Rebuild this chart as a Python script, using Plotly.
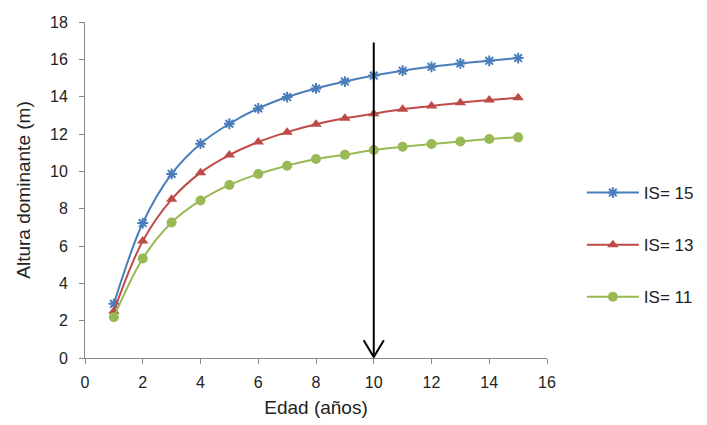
import plotly.graph_objects as go

edad = list(range(1, 16))
is15 = [2.9, 7.23, 9.86, 11.48, 12.55, 13.37, 13.98, 14.44, 14.81, 15.13, 15.39, 15.6, 15.78, 15.92, 16.07]
is13 = [2.5, 6.27, 8.5, 9.93, 10.87, 11.57, 12.1, 12.52, 12.84, 13.09, 13.32, 13.5, 13.68, 13.82, 13.94]
is11 = [2.18, 5.33, 7.26, 8.44, 9.27, 9.86, 10.3, 10.66, 10.89, 11.14, 11.32, 11.46, 11.6, 11.73, 11.82]
series_names = ["IS= 15", "IS= 13", "IS= 11"]
arrow_x = 10
arrow_top = 16.9

fig = go.Figure()
styles = [
    ("#4A7EBB", dict(symbol="asterisk-open", size=9, line=dict(width=2, color="#4A7EBB"))),
    ("#BE4B48", dict(symbol="triangle-up", size=10, color="#BE4B48")),
    ("#98B954", dict(symbol="circle", size=10, color="#98B954")),
]
for name, ys, (col, mk) in zip(series_names, [is15, is13, is11], styles):
    fig.add_trace(go.Scatter(x=edad, y=ys, name=name, mode="lines+markers",
                             line=dict(color=col, width=2, shape="spline"),
                             marker=mk, legendgroup=name))

# Arrow
fig.add_shape(type="line", xref="x", yref="y", x0=arrow_x, x1=arrow_x, y0=arrow_top, y1=0.05,
              line=dict(color="black", width=2))
fig.add_shape(type="path", xref="x", yref="y",
              path=f"M {arrow_x-0.35},{0.95} L {arrow_x},{0.05} L {arrow_x+0.35},{0.95}",
              line=dict(color="black", width=2))

fig.update_layout(
    width=707, height=425,
    margin=dict(l=85, r=160, t=22, b=67, autoexpand=False),
    paper_bgcolor="white", plot_bgcolor="white",
    font=dict(family="Liberation Sans, Arial, sans-serif", size=16, color="#222"),
    xaxis=dict(range=[0, 16], dtick=2, showgrid=False, zeroline=False, automargin=False,
               showline=True, linecolor="#888", linewidth=1,
               ticks="outside", ticklen=5, tickcolor="#888", ticklabelstandoff=5,
               title=dict(text="Edad (años)", standoff=10)),
    yaxis=dict(range=[0, 18], dtick=2, showgrid=False, zeroline=False, automargin=False,
               showline=True, linecolor="#888", linewidth=1,
               ticks="outside", ticklen=5, tickcolor="#888", ticklabelstandoff=8,
               title=dict(text="Altura dominante (m)", standoff=14)),
    legend=dict(x=0.823, y=0.4235, xanchor="left", yanchor="middle",
                xref="container", yref="container",
                font=dict(size=17), traceorder="grouped", tracegroupgap=27,
                itemwidth=52, bgcolor="rgba(0,0,0,0)"),
)

fig.write_html("out.html")
